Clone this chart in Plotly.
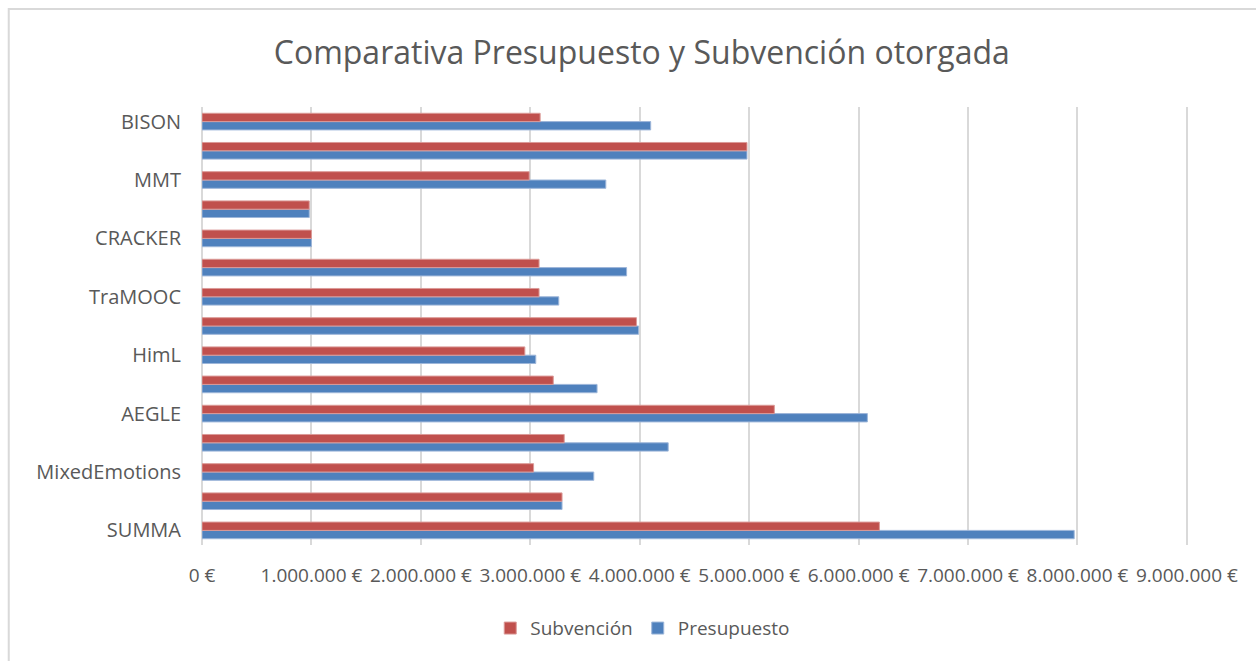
import plotly.graph_objects as go

# projects, bottom to top (only every other one is labelled in the original)
projects = ["SUMMA", "", "MixedEmotions", "", "AEGLE", "", "HimL", "",
            "TraMOOC", "", "CRACKER", "", "MMT", "", "BISON"]

# values in euros
presupuesto = [7970000, 3290000, 3580000, 4260000, 6080000, 3610000, 3050000, 3990000,
               3260000, 3880000, 1000000, 980000, 3690000, 4980000, 4100000]
subvencion = [6190000, 3290000, 3030000, 3310000, 5230000, 3210000, 2950000, 3970000,
              3080000, 3080000, 1000000, 980000, 2990000, 4980000, 3090000]

x_ticks = [0, 1000000, 2000000, 3000000, 4000000, 5000000, 6000000, 7000000, 8000000, 9000000]
# spanish style: dots as thousands separator, euro sign after
x_labels = [f"{v:,}".replace(",", ".") + " €" for v in x_ticks]

positions = list(range(len(projects)))
text_color = "#595959"
font_name = "Open Sans"

fig = go.Figure()

# blue first so it sits below the red bar in each group
fig.add_trace(go.Bar(
    y=positions, x=presupuesto, orientation="h", name="Presupuesto",
    marker=dict(color="#4F81BD", line=dict(color="#9DB6D9", width=1)),
))
fig.add_trace(go.Bar(
    y=positions, x=subvencion, orientation="h", name="Subvención",
    marker=dict(color="#C0504D", line=dict(color="#DB9A98", width=1)),
))

fig.update_layout(
    width=1256, height=661,
    barmode="group", bargap=0.43, bargroupgap=0,
    plot_bgcolor="white", paper_bgcolor="white",
    font=dict(family=font_name, size=19, color=text_color),
    margin=dict(l=202, r=68, t=107, b=116),
    title=dict(text="Comparativa Presupuesto y Subvención otorgada",
               font=dict(family=font_name, size=32, color=text_color),
               x=0.511, xanchor="center", y=0.92, yanchor="middle", yref="container"),
    legend=dict(orientation="h", x=0.447, xanchor="center", y=-0.19, yanchor="middle",
                traceorder="reversed", font=dict(size=19, color=text_color)),
    showlegend=True,
)

fig.update_xaxes(
    range=[0, 9010000], tickvals=x_ticks, ticktext=x_labels,
    tickangle=0, showgrid=True, gridcolor="#D9D9D9", gridwidth=2,
    zeroline=True, zerolinecolor="#D9D9D9", zerolinewidth=2,
    showline=False, ticks="", ticklabelstandoff=17,
)
fig.update_yaxes(
    range=[-0.5, len(projects) - 0.5], tickvals=positions, ticktext=projects,
    showgrid=False, zeroline=False, showline=False, ticks="", ticklabelstandoff=20,
    tickfont=dict(size=20),
)

# light grey frame round the whole chart, as in the spreadsheet export
fig.add_shape(type="rect", xref="paper", yref="paper",
              x0=-0.196, x1=1.2, y0=-0.4, y1=1.224,
              line=dict(color="#D9D9D9", width=2), fillcolor="rgba(0,0,0,0)", layer="below")

fig.write_html("out.html", config={"displayModeBar": False},
               post_script="document.body.style.margin = '0';")
